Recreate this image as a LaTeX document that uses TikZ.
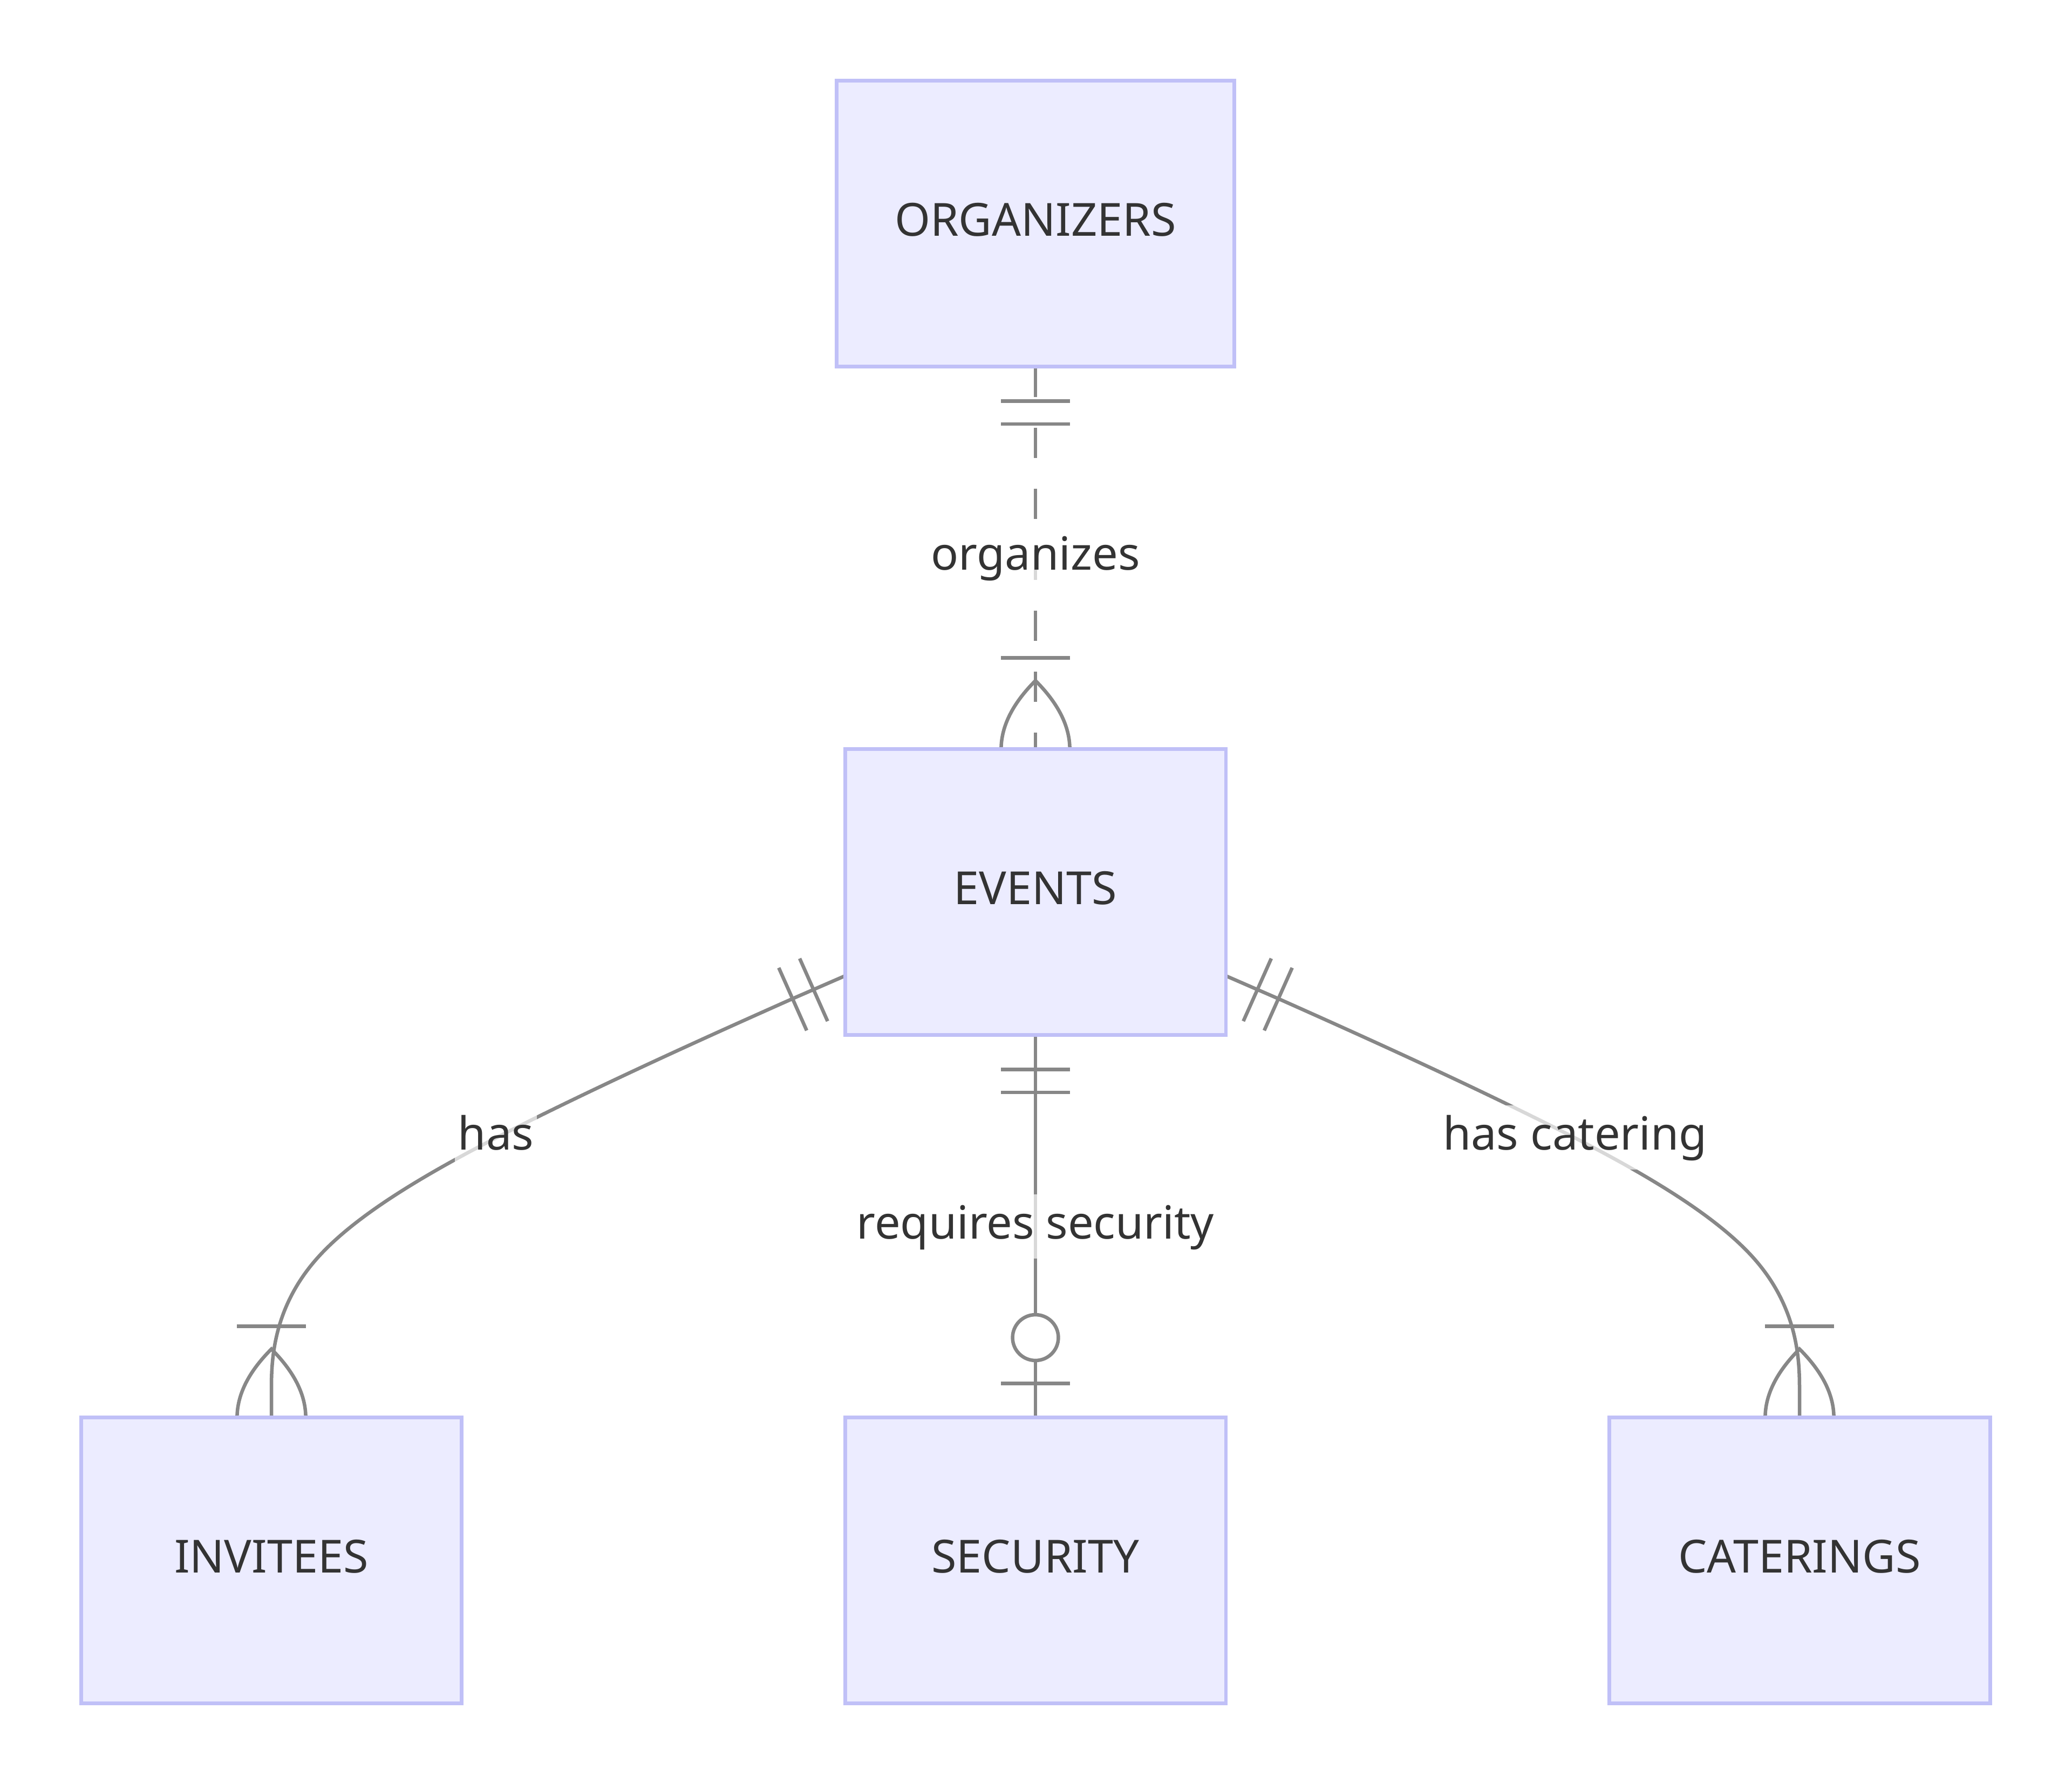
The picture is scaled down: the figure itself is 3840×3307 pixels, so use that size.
\documentclass[tikz,border=0pt]{standalone}
\usepackage{fontspec}
\setmainfont{Noto Sans}
\usetikzlibrary{calc}
\pgfdeclarelayer{bg}
\pgfsetlayers{bg,main}
\definecolor{entfill}{RGB}{236,236,255}
\definecolor{entdraw}{RGB}{192,192,247}
\definecolor{relcol}{RGB}{135,135,135}
\definecolor{txtcol}{RGB}{51,51,51}
\tikzset{
  entity/.style={draw=entdraw, fill=entfill, line width=0.7pt,
    minimum width=70.6pt, minimum height=53pt, inner sep=0pt, outer sep=0pt,
    text=txtcol, font=\fontsize{8.46pt}{10pt}\selectfont,
    text height=4.6pt, text depth=0pt},
  rellabel/.style={fill=white, fill opacity=0.68, text opacity=1, text=txtcol,
    inner xsep=0.55pt, inner ysep=0pt, minimum height=11.9pt,
    font=\fontsize{8.46pt}{10pt}\selectfont, text height=4.6pt, text depth=0pt},
  relline/.style={draw=relcol, line width=0.65pt},
  dashedrel/.style={relline, dash pattern=on 5.65pt off 5.65pt},
  pics/onlyone/.style={code={
    \draw[relline] (9,-9) -- (9,9) (15,-9) -- (15,9);
  }},
  pics/oneormore/.style={code={
    \draw[relline] (24,-9) -- (24,9);
    \draw[relline] (0,-9) .. controls (6,-9) and (12,-6) .. (18,0)
                          .. controls (12,6) and (6,9) .. (0,9);
  }},
  pics/zeroorone/.style={code={
    \draw[relline] (9,-9) -- (9,9);
    \draw[relline, fill=white] (21,0) circle [radius=6];
  }},
}
\begin{document}
\begin{tikzpicture}[x=0.1pt, y=-0.1pt]
  \useasboundingbox (0,0) rectangle (3840,3307);
  % entities
  \node[entity, minimum width=73.8pt] (org) at (1919,415) {ORGANIZERS};
  \node[entity] (ev)  at (1919,1654) {EVENTS};
  \node[entity] (inv) at (503,2893)  {INVITEES};
  \node[entity] (sec) at (1919,2893) {SECURITY};
  \node[entity] (cat) at (3335,2893) {CATERINGS};
  % relationship labels
  \node[rellabel] (lorg) at (1919,1033.5) {organizes};
  \node[rellabel] (lsec) at (1919,2273.5) {requires security};
  \node[rellabel] (lhas) at (919,2108.7)  {has};
  \node[rellabel] (lcat) at (2919,2108.7) {has catering};
  \coordinate (hasA) at ($(ev.west)+(0,155)$);
  \coordinate (catA) at ($(ev.east)+(0,155)$);
  \begin{pgfonlayer}{bg}
    \fill[white] (0,0) rectangle (3840,3307);
    % ORGANIZERS ||..|{ EVENTS
    \draw[dashedrel] (org.south) -- (ev.north);
    \pic[rotate=-90, scale=7.07] at (org.south) {onlyone};
    \pic[rotate=90, scale=7.07] at (ev.north) {oneormore};
    % EVENTS ||--o| SECURITY
    \draw[relline] (ev.south) -- (sec.north);
    \pic[rotate=-90, scale=7.07] at (ev.south) {onlyone};
    \pic[rotate=90, scale=7.07] at (sec.north) {zeroorone};
    % EVENTS ||--|{ INVITEES
    \draw[relline] (hasA) -- (1470,1850.8)
      .. controls (1376,1892.7) and (1188,1976.3) .. (1011.2,2063.2)
      .. controls (834.3,2150) and (668.7,2240) .. (585.8,2334.7)
      .. controls (503,2429.3) and (503,2528.7) .. (503,2578.3)
      -- (inv.north);
    \pic[rotate=204, scale=7.07] at (hasA) {onlyone};
    \pic[rotate=90, scale=7.07] at (inv.north) {oneormore};
    % EVENTS ||--|{ CATERINGS
    \draw[relline] (catA) -- (2368,1850.8)
      .. controls (2462,1892.7) and (2650,1976.3) .. (2826.8,2063.2)
      .. controls (3003.7,2150) and (3169.3,2240) .. (3252.2,2334.7)
      .. controls (3335,2429.3) and (3335,2528.7) .. (3335,2578.3)
      -- (cat.north);
    \pic[rotate=-24, scale=7.07] at (catA) {onlyone};
    \pic[rotate=90, scale=7.07] at (cat.north) {oneormore};
  \end{pgfonlayer}
\end{tikzpicture}
\end{document}
